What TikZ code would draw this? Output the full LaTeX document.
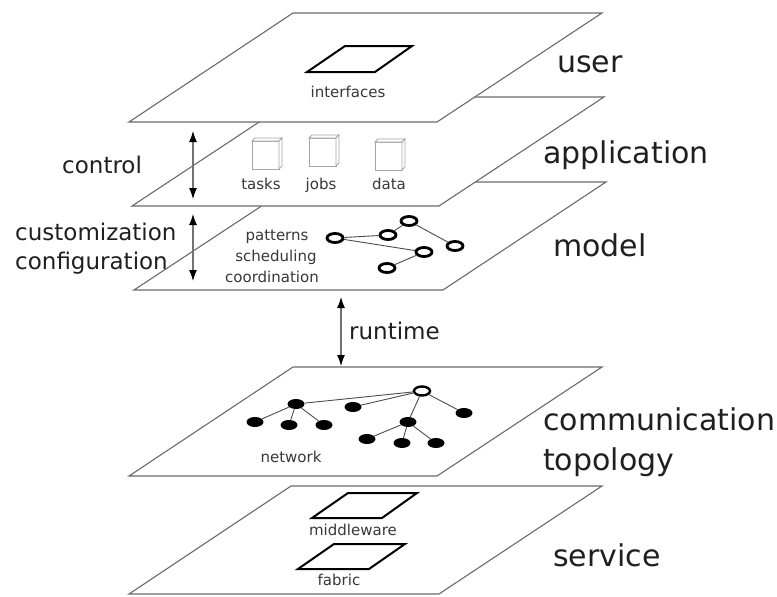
\documentclass[tikz,border=0pt]{standalone}
\usepackage{fontspec}
\setmainfont{DejaVu Sans}
\usetikzlibrary{arrows.meta,shapes.geometric}

\begin{document}
\begin{tikzpicture}[x=1pt,y=-1pt,
  plane/.style={draw=black!58, line width=1.1pt, fill=white, line join=miter},
  frame/.style={draw=black, line width=2pt, line join=miter},
  cubeline/.style={draw=black!35, line width=0.8pt, fill=white},
  big/.style={font=\fontsize{30}{36}\selectfont, inner sep=0pt, anchor=base west, text=black!88},
  mid/.style={font=\fontsize{23}{28}\selectfont, inner sep=0pt, anchor=base west, text=black!88},
  small/.style={font=\fontsize{15}{18}\selectfont, inner sep=0pt, anchor=base, text=black!78},
  hnode/.style={ellipse, draw=black, line width=2.8pt, minimum width=16pt, minimum height=9pt, inner sep=0pt, fill=white},
  fnode/.style={ellipse, fill=black, minimum width=17pt, minimum height=10pt, inner sep=0pt},
  edge/.style={draw=black!70, line width=0.9pt},
  dbl/.style={{Latex[length=11pt,width=8pt,color=black]}-{Latex[length=11pt,width=8pt,color=black]}, draw=black!55, line width=1.1pt},
  minicube/.pic={
    \draw[cubeline] (0,3) rectangle (27,31);
    \draw[cubeline] (0,3) -- (3,0) -- (30,0) -- (27,3) -- cycle;
    \draw[cubeline] (27,3) -- (30,0) -- (30,28) -- (27,31) -- cycle;
  }
]
\useasboundingbox (0,0) rectangle (777,597);

% ---------- service layer ----------
\draw[plane] (129,594) -- (439,594) -- (602,486) -- (291,486) -- cycle;
\draw[frame] (312,518) -- (382,518) -- (417,493) -- (348,493) -- cycle;
\node[small] (mw) at (353,535) {middleware};
\draw[frame] (298,569) -- (369,569) -- (405,544) -- (334,544) -- cycle;
\node[small] (fab) at (339,585) {fabric};

% ---------- communication topology layer ----------
\draw[plane] (129,476) -- (437,476) -- (602,367) -- (293,367) -- cycle;
\node[hnode, line width=2.4pt] (r) at (422,391) {};
\node[fnode] (b) at (296,404) {};
\node[fnode] (c) at (353,407) {};
\node[fnode] (d) at (464,413) {};
\node[fnode] (e) at (408,422) {};
\node[fnode] (f) at (255,422) {};
\node[fnode] (g) at (289,425) {};
\node[fnode] (h) at (324,425) {};
\node[fnode] (i) at (367,439) {};
\node[fnode] (j) at (402,443) {};
\node[fnode] (k) at (436,443) {};
\draw[edge] (r) -- (b);
\draw[edge] (r) -- (c);
\draw[edge] (r) -- (d);
\draw[edge] (r) -- (e);
\draw[edge] (b) -- (f);
\draw[edge] (b) -- (g);
\draw[edge] (b) -- (h);
\draw[edge] (e) -- (i);
\draw[edge] (e) -- (j);
\draw[edge] (e) -- (k);
\node[small] (net) at (291,462) {network};

% ---------- model layer ----------
\draw[plane] (134,290) -- (443,290) -- (606,182) -- (298,182) -- cycle;
\node[small] (pat) at (277,240) {patterns};
\node[small] (sch) at (276,261) {scheduling};
\node[small] (coo) at (272,282) {coordination};
\node[hnode] (m1) at (335,238) {};
\node[hnode] (m2) at (388,235) {};
\node[hnode] (m3) at (409,221) {};
\node[hnode] (m4) at (455,246) {};
\node[hnode] (m5) at (424,252) {};
\node[hnode] (m6) at (387,268) {};
\draw[edge] (m1) -- (m2);
\draw[edge] (m2) -- (m3);
\draw[edge] (m3) -- (m4);
\draw[edge] (m1) -- (m5);
\draw[edge] (m5) -- (m6);

% ---------- application layer ----------
\draw[plane] (132,206) -- (439,206) -- (604,97) -- (297,97) -- cycle;
\pic at (252,138) {minicube};
\pic at (309,135) {minicube};
\pic at (375,139) {minicube};
\node[small] (tsk) at (261,189) {tasks};
\node[small] (job) at (321,189) {jobs};
\node[small] (dat) at (389,189) {data};

% ---------- user layer ----------
\draw[plane] (129,122) -- (437,122) -- (602,13) -- (293,13) -- cycle;
\draw[frame] (307,72) -- (375,72) -- (412,46) -- (345,46) -- cycle;
\node[small] (ifc) at (348,97) {interfaces};

% ---------- arrows between layers ----------
\coordinate (c1) at (193,131);
\coordinate (c2) at (193,199);
\coordinate (k1) at (193,214);
\coordinate (k2) at (193,281);
\coordinate (r1) at (341,297);
\coordinate (r2) at (341,366);
\draw[dbl] (c1) -- (c2);
\draw[dbl] (k1) -- (k2);
\draw[dbl] (r1) -- (r2);

% ---------- labels ----------
\node[mid] (lctl) at (62,173) {control};
\node[mid] (lcus) at (15,240) {customization};
\node[mid] (lcfg) at (15,269) {configuration};
\node[mid] (lrun) at (349,339) {runtime};

\node[big] (luser) at (557,72) {user};
\node[big] (lapp) at (543,163) {application};
\node[big] (lmod) at (553,256) {model};
\node[big] (lcom) at (543,430) {communication};
\node[big] (ltop) at (543,470) {topology};
\node[big] (lsrv) at (553,566) {service};
\end{tikzpicture}
\end{document}
